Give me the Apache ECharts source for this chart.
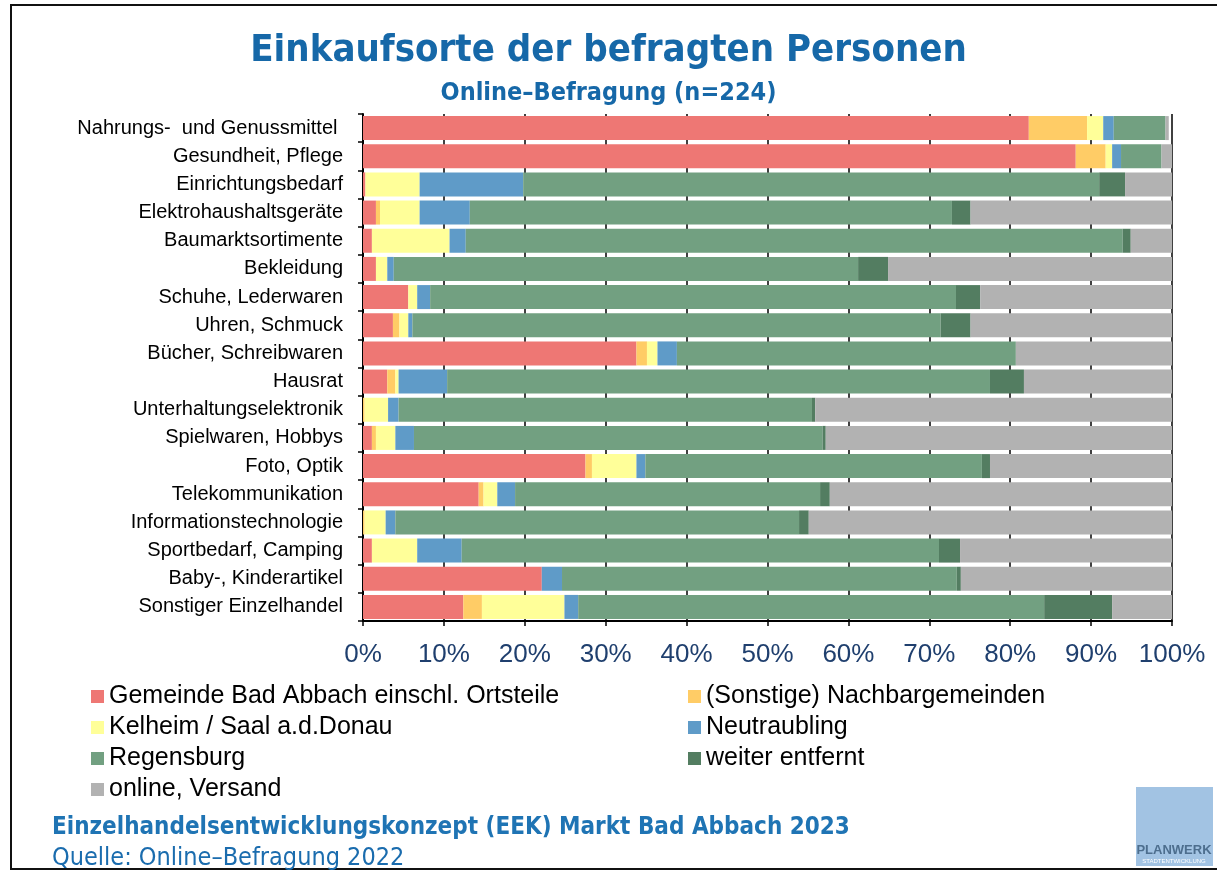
<!DOCTYPE html>
<html>
<head>
<meta charset="utf-8">
<script src="https://cdn.jsdelivr.net/npm/echarts@6/dist/echarts.min.js"></script>
<style>
  html, body { margin: 0; padding: 0; background: #fff; }
  #chart { width: 1217px; height: 873px; }
</style>
</head>
<body>
<div id="chart"></div>
<script>
var categories = [
  'Nahrungs-  und Genussmittel ',
  'Gesundheit, Pflege',
  'Einrichtungsbedarf',
  'Elektrohaushaltsgeräte',
  'Baumarktsortimente',
  'Bekleidung',
  'Schuhe, Lederwaren',
  'Uhren, Schmuck',
  'Bücher, Schreibwaren',
  'Hausrat',
  'Unterhaltungselektronik',
  'Spielwaren, Hobbys',
  'Foto, Optik',
  'Telekommunikation',
  'Informationstechnologie',
  'Sportbedarf, Camping',
  'Baby-, Kinderartikel',
  'Sonstiger Einzelhandel'
];

// Anteile in Prozent, Reihenfolge wie categories
var gemeinde = [82.3, 88.1, 0.3, 1.6, 1.1, 1.6, 5.6, 3.7, 33.8, 3.0, 0, 1.1, 27.5, 14.3, 0, 1.1, 22.1, 12.4];
var nachbar = [7.2, 3.7, 0, 0.5, 0, 0, 0, 0.8, 1.3, 1.0, 0.2, 0.5, 0.8, 0.6, 0.2, 0, 0, 2.3];
var kelheim = [2.0, 0.8, 6.7, 4.9, 9.6, 1.4, 1.1, 1.1, 1.3, 0.4, 2.9, 2.4, 5.5, 1.7, 2.6, 5.6, 0, 10.2];
var neutraubling = [1.3, 1.1, 12.8, 6.2, 2.0, 0.8, 1.6, 0.5, 2.4, 6.0, 1.3, 2.3, 1.1, 2.2, 1.2, 5.5, 2.5, 1.7];
var regensburg = [6.4, 5.0, 71.2, 59.6, 81.2, 57.4, 65.0, 65.3, 41.9, 67.1, 51.1, 50.5, 41.6, 37.7, 49.9, 59.0, 48.8, 57.6];
var weiter = [0, 0, 3.2, 2.3, 1.0, 3.7, 3.0, 3.7, 0, 4.2, 0.4, 0.4, 1.0, 1.2, 1.2, 2.6, 0.5, 8.4];
var online = [0.4, 1.3, 5.8, 24.9, 5.1, 35.1, 23.7, 24.9, 19.3, 18.3, 44.1, 42.8, 22.5, 42.3, 44.9, 26.2, 26.1, 7.4];

var seriesNames = [
  'Gemeinde Bad Abbach einschl. Ortsteile',
  '(Sonstige) Nachbargemeinden',
  'Kelheim / Saal a.d.Donau',
  'Neutraubling',
  'Regensburg',
  'weiter entfernt',
  'online, Versand'
];
var seriesData = [gemeinde, nachbar, kelheim, neutraubling, regensburg, weiter, online];
var colors = ['#EE7774', '#FFCC66', '#FFFF99', '#5F9BC8', '#72A081', '#537D61', '#B2B2B2'];

var myChart = echarts.init(document.getElementById('chart'));

var series = [];
for (var i = 0; i < seriesNames.length; i++) {
  series.push({
    name: seriesNames[i],
    type: 'bar',
    stack: 'total',
    data: seriesData[i],
    barWidth: 24,
    itemStyle: { color: colors[i] }
  });
}

var blue = '#1668A8';
var condensed = "'DejaVu Sans Condensed', 'Liberation Sans Narrow', 'DejaVu Sans', sans-serif";
var arial = "'Liberation Sans', Arial, sans-serif";
var legendText = { fontFamily: arial, fontSize: 25, color: '#000' };

var option = {
  animation: false,
  title: [
    {
      text: 'Einkaufsorte der befragten Personen',
      left: 'center',
      top: 27,
      textStyle: { fontFamily: condensed, fontSize: 38, fontWeight: 'bold', color: blue }
    },
    {
      text: 'Online–Befragung (n=224)',
      left: 'center',
      top: 76,
      textStyle: { fontFamily: condensed, fontSize: 25, fontWeight: 'bold', color: blue }
    },
    {
      text: 'Einzelhandelsentwicklungskonzept (EEK) Markt Bad Abbach 2023',
      left: 47,
      top: 811,
      textStyle: { fontFamily: condensed, fontSize: 24, fontWeight: 'bold', color: '#1F74B4' }
    },
    {
      text: 'Quelle: Online–Befragung 2022',
      left: 47,
      top: 841,
      textStyle: { fontFamily: condensed, fontSize: 25, fontWeight: 'normal', color: '#1A6CAE' }
    }
  ],
  legend: [
    {
      data: [seriesNames[0], seriesNames[2], seriesNames[4], seriesNames[6]],
      orient: 'vertical',
      left: 86,
      top: 679,
      icon: 'rect',
      itemWidth: 13,
      itemHeight: 13,
      itemGap: 6,
      textStyle: legendText,
      selectedMode: false
    },
    {
      data: [seriesNames[1], seriesNames[3], seriesNames[5]],
      orient: 'vertical',
      left: 683,
      top: 679,
      icon: 'rect',
      itemWidth: 13,
      itemHeight: 13,
      itemGap: 6,
      textStyle: legendText,
      selectedMode: false
    }
  ],
  grid: {
    left: 363,
    right: 45,
    top: 114,
    bottom: 252
  },
  xAxis: {
    type: 'value',
    min: 0,
    max: 100,
    interval: 10,
    axisLine: { show: true, lineStyle: { color: '#000', width: 2 } },
    axisTick: { show: true, length: 5, lineStyle: { color: '#000', width: 1.5 } },
    splitLine: { show: true, lineStyle: { color: '#000', width: 1.5 } },
    axisLabel: {
      formatter: '{value}%',
      fontFamily: arial,
      fontSize: 26,
      color: '#1F3F6E',
      margin: 21
    }
  },
  yAxis: {
    type: 'category',
    inverse: true,
    data: categories,
    axisLine: { show: true, lineStyle: { color: '#000', width: 2 } },
    axisTick: { show: true, length: 5, lineStyle: { color: '#000', width: 1.5 } },
    axisLabel: {
      fontFamily: arial,
      fontSize: 20,
      color: '#000',
      margin: 20
    }
  },
  graphic: [
    {
      type: 'rect',
      shape: { x: 11, y: 5, width: 1230, height: 864 },
      style: { fill: 'none', stroke: '#111', lineWidth: 2 },
      silent: true
    },
    {
      type: 'rect',
      shape: { x: 1136, y: 787, width: 77, height: 79 },
      style: { fill: '#A2C3E3' }
    },
    {
      type: 'text',
      x: 1174,
      y: 850,
      style: {
        text: 'PLANWERK',
        fill: '#4D6E8E',
        font: "bold 13px 'Liberation Sans', Arial, sans-serif",
        textAlign: 'center',
        textVerticalAlign: 'middle'
      }
    },
    {
      type: 'text',
      x: 1174,
      y: 861,
      style: {
        text: 'STADTENTWICKLUNG',
        fill: '#FFFFFF',
        font: "6px 'Liberation Sans', Arial, sans-serif",
        textAlign: 'center',
        textVerticalAlign: 'middle'
      }
    }
  ],
  series: series
};

myChart.setOption(option);
</script>
</body>
</html>
